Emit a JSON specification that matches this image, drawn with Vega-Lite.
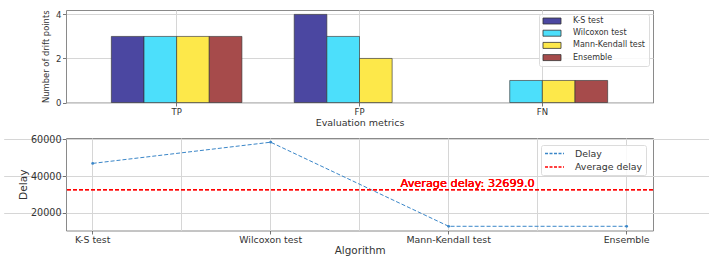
{
  "$schema": "https://vega.github.io/schema/vega-lite/v6.json",
  "padding": {"left": 17, "top": 9, "right": 5, "bottom": 5},
  "background": "white",
  "config": {
    "font": "DejaVu Sans",
    "view": {"stroke": "#8a8a8a", "strokeWidth": 1},
    "axis": {
      "domain": false,
      "gridColor": "#d6d6d6",
      "gridWidth": 1,
      "tickColor": "#555",
      "tickSize": 3.5,
      "tickWidth": 0.8,
      "labelColor": "#333",
      "titleColor": "#333",
      "titleFontWeight": "normal",
      "labelPadding": 1.5
    }
  },
  "bounds": "flush",
  "spacing": 35,
  "resolve": {"scale": {"color": "independent"}, "legend": {"color": "independent"}},
  "vconcat": [
    {
      "width": 587,
      "height": 92.5,
      "data": {"values": [
        {"metric": "TP", "method": "K-S test", "count": 3},
        {"metric": "TP", "method": "Wilcoxon test", "count": 3},
        {"metric": "TP", "method": "Mann-Kendall test", "count": 3},
        {"metric": "TP", "method": "Ensemble", "count": 3},
        {"metric": "FP", "method": "K-S test", "count": 4},
        {"metric": "FP", "method": "Wilcoxon test", "count": 3},
        {"metric": "FP", "method": "Mann-Kendall test", "count": 2},
        {"metric": "FP", "method": "Ensemble", "count": 0},
        {"metric": "FN", "method": "K-S test", "count": 0},
        {"metric": "FN", "method": "Wilcoxon test", "count": 1},
        {"metric": "FN", "method": "Mann-Kendall test", "count": 1},
        {"metric": "FN", "method": "Ensemble", "count": 1}
      ]},
      "transform": [{"filter": "datum.count > 0"}],
      "mark": {"type": "bar", "stroke": "#333", "strokeWidth": 0.8, "strokeOpacity": 0.8},
      "encoding": {
        "x": {
          "field": "metric", "type": "nominal", "sort": ["TP", "FP", "FN"],
          "scale": {"domain": ["TP", "FP", "FN"], "paddingInner": 0.286, "paddingOuter": 0.248},
          "axis": {"labelAngle": 0, "bandPosition": 0.5, "grid": true, "title": "Evaluation metrics",
                   "labelFontSize": 8.5, "titleFontSize": 9.5, "titlePadding": 1}
        },
        "xOffset": {
          "field": "method", "type": "nominal",
          "sort": ["K-S test", "Wilcoxon test", "Mann-Kendall test", "Ensemble"],
          "scale": {"domain": ["K-S test", "Wilcoxon test", "Mann-Kendall test", "Ensemble"], "paddingInner": 0, "paddingOuter": 0}
        },
        "y": {
          "field": "count", "type": "quantitative",
          "scale": {"domain": [0, 4.2], "nice": false},
          "axis": {"values": [0, 2, 4], "title": "Number of drift points",
                   "labelFontSize": 8.5, "titleFontSize": 8.4, "titlePadding": 5}
        },
        "color": {
          "field": "method", "type": "nominal",
          "sort": ["K-S test", "Wilcoxon test", "Mann-Kendall test", "Ensemble"],
          "scale": {"domain": ["K-S test", "Wilcoxon test", "Mann-Kendall test", "Ensemble"],
                    "range": ["#4b47a1", "#4cdffb", "#fde84a", "#a64b4b"]},
          "legend": {
            "title": null, "orient": "top-right", "offset": 4,
            "fillColor": "rgba(255,255,255,0.85)", "strokeColor": "#dcdcdc", "cornerRadius": 2,
            "padding": 3, "labelFontSize": 8, "labelColor": "#333",
            "symbolType": "M-3,-1H3V1H-3Z", "symbolSize": 36, "symbolOffset": 6,
            "symbolStrokeColor": "#333", "symbolStrokeWidth": 0.8, "symbolOpacity": 1,
            "rowPadding": 2.2, "labelOffset": 17
          }
        }
      }
    },
    {
      "width": 587,
      "height": 92.5,
      "data": {"values": [
        {"algorithm": "K-S test", "delay": 46900},
        {"algorithm": "Wilcoxon test", "delay": 58400},
        {"algorithm": "Mann-Kendall test", "delay": 12748},
        {"algorithm": "Ensemble", "delay": 12748}
      ]},
      "resolve": {"axis": {"x": "independent"}},
      "layer": [
        {
          "mark": {"type": "line", "strokeDash": [4, 2], "strokeWidth": 1,
                   "point": {"filled": true, "size": 8, "color": "#3a86c8"}},
          "encoding": {
            "x": {
              "field": "algorithm", "type": "nominal",
              "sort": ["K-S test", "Wilcoxon test", "Mann-Kendall test", "Ensemble"],
              "scale": {"type": "band", "paddingInner": 0, "paddingOuter": 0, "range": [-62.3, 649.6]},
              "axis": {"labelAngle": 0, "bandPosition": 0.5, "grid": true, "title": "Algorithm",
                       "labelFontSize": 9.4, "titleFontSize": 10.4, "titlePadding": 1.5}
            },
            "y": {
              "field": "delay", "type": "quantitative",
              "scale": {"domain": [10465, 60683], "nice": false, "zero": false},
              "axis": {"values": [20000, 40000, 60000], "format": "d", "title": "Delay",
                       "labelFontSize": 9.6, "titleFontSize": 10.6, "titlePadding": 2}
            },
            "color": {
              "datum": "Delay",
              "scale": {"domain": ["Delay", "Average delay"], "range": ["#3a86c8", "#ff0000"]},
              "legend": {
                "title": null, "orient": "top-right", "offset": 7,
                "fillColor": "rgba(255,255,255,0.85)", "strokeColor": "#dcdcdc", "cornerRadius": 2,
                "padding": 3, "labelFontSize": 9.4, "labelColor": "#333",
                "symbolType": "M-2,0H2", "symbolSize": 90, "symbolOffset": 5, "symbolFillColor": "transparent",
                "symbolDash": [3, 1.5], "symbolStrokeWidth": 1.3, "rowPadding": 3.5, "labelOffset": 15
              }
            }
          }
        },
        {
          "mark": {"type": "rule", "strokeDash": [4, 2], "strokeWidth": 1.3},
          "encoding": {
            "y": {"datum": 32699},
            "color": {"datum": "Average delay"}
          }
        },
        {
          "mark": {"type": "text", "color": "#ff0000", "fontSize": 11.3, "fontWeight": "normal", "align": "center",
                   "baseline": "alphabetic", "dx": 19, "dy": -3, "opacity": 0.8},
          "encoding": {
            "x": {
              "datum": "Mann-Kendall test",
              "axis": {"orient": "top", "bandPosition": 1, "grid": true, "labels": false, "ticks": false,
                       "domain": false, "title": null,
                       "values": ["K-S test", "Wilcoxon test", "Mann-Kendall test"]}
            },
            "y": {"datum": 32699},
            "text": {"value": "Average delay: 32699.0"}
          }
        }
      ]
    }
  ]
}
